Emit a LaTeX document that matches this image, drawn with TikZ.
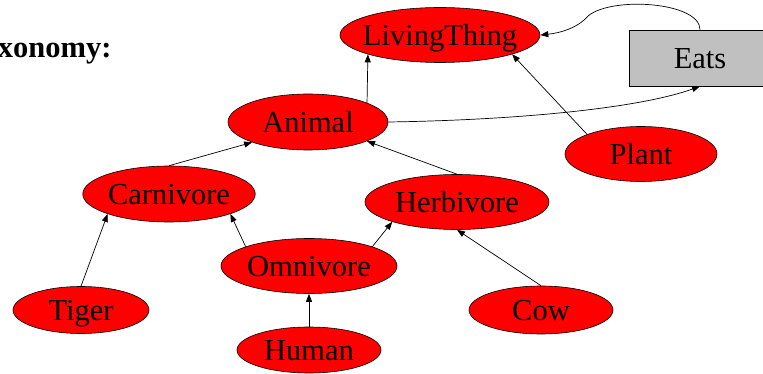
\documentclass[tikz,border=0pt]{standalone}
\usepackage{fontspec}
\setmainfont{Liberation Serif}
\usetikzlibrary{shapes.geometric, arrows.meta}
\definecolor{eatsgray}{RGB}{192,192,192}

\begin{document}
\begin{tikzpicture}[
    x=1pt, y=-1pt,
    font=\fontsize{30.5}{36}\selectfont,
    concept/.style={
        ellipse,
        draw=black,
        fill=red,
        inner sep=0pt,
        text height=21pt,
        text depth=0pt,
        minimum height=55pt,
        line width=0.6pt
    },
    relation/.style={
        rectangle,
        draw=black,
        fill=eatsgray,
        minimum width=142pt,
        minimum height=56pt,
        text height=21pt,
        text depth=0pt,
        line width=0.6pt
    },
    arrow/.style={-{Triangle[length=8pt, width=6pt]}, line width=0.7pt, draw=black}
]
\useasboundingbox (0,0) rectangle (763,374);

% Titulo
\node[anchor=base east, font=\fontsize{30.5}{36}\selectfont\bfseries] (titulo) at (115,58) {xonomy:};

% Conceptos
\node[concept, minimum width=200pt, inner xsep=-8pt] (livingthing) at (440,35) {LivingThing};
\node[concept, minimum width=160pt, minimum height=56pt] (animal) at (308,122) {Animal};
\node[concept, minimum width=152pt] (plant) at (641,154) {Plant};
\node[concept, minimum width=168pt, minimum height=56pt] (carnivore) at (169,194) {Carnivore};
\node[concept, minimum width=184pt] (herbivore) at (457,202) {Herbivore};
\node[concept, minimum width=176pt] (omnivore) at (309,266) {Omnivore};
\node[concept, minimum width=136pt, minimum height=47pt] (tiger) at (81,310) {Tiger};
\node[concept, minimum width=144pt, minimum height=48pt] (cow) at (541,310) {Cow};
\node[concept, minimum width=144pt, minimum height=46pt] (human) at (309,350) {Human};

% Relacion
\node[relation] (eats) at (700,58) {Eats};

% Flechas de la taxonomia
\draw[arrow] (animal.18) -- (livingthing.195);
\draw[arrow] (plant.160) -- (livingthing.-15);
\draw[arrow] (carnivore.north) -- (animal.200);
\draw[arrow] (herbivore.north) -- (animal.-18);
\draw[arrow] (tiger.north) -- (carnivore.198);
\draw[arrow] (omnivore.163) -- (carnivore.-18);
\draw[arrow] (omnivore.17) -- (herbivore.197);
\draw[arrow] (cow.north) -- (herbivore.south);
\draw[arrow] (human.north) -- (omnivore.south);

% Flechas de la relacion
\draw[arrow] (animal.east) .. controls (520,120) and (640,108) .. (eats.south);
\draw[arrow] (eats.north) .. controls (700,2) and (612,-4) .. (588,16) .. controls (578,28) and (560,33) .. (livingthing.east);

\end{tikzpicture}
\end{document}
